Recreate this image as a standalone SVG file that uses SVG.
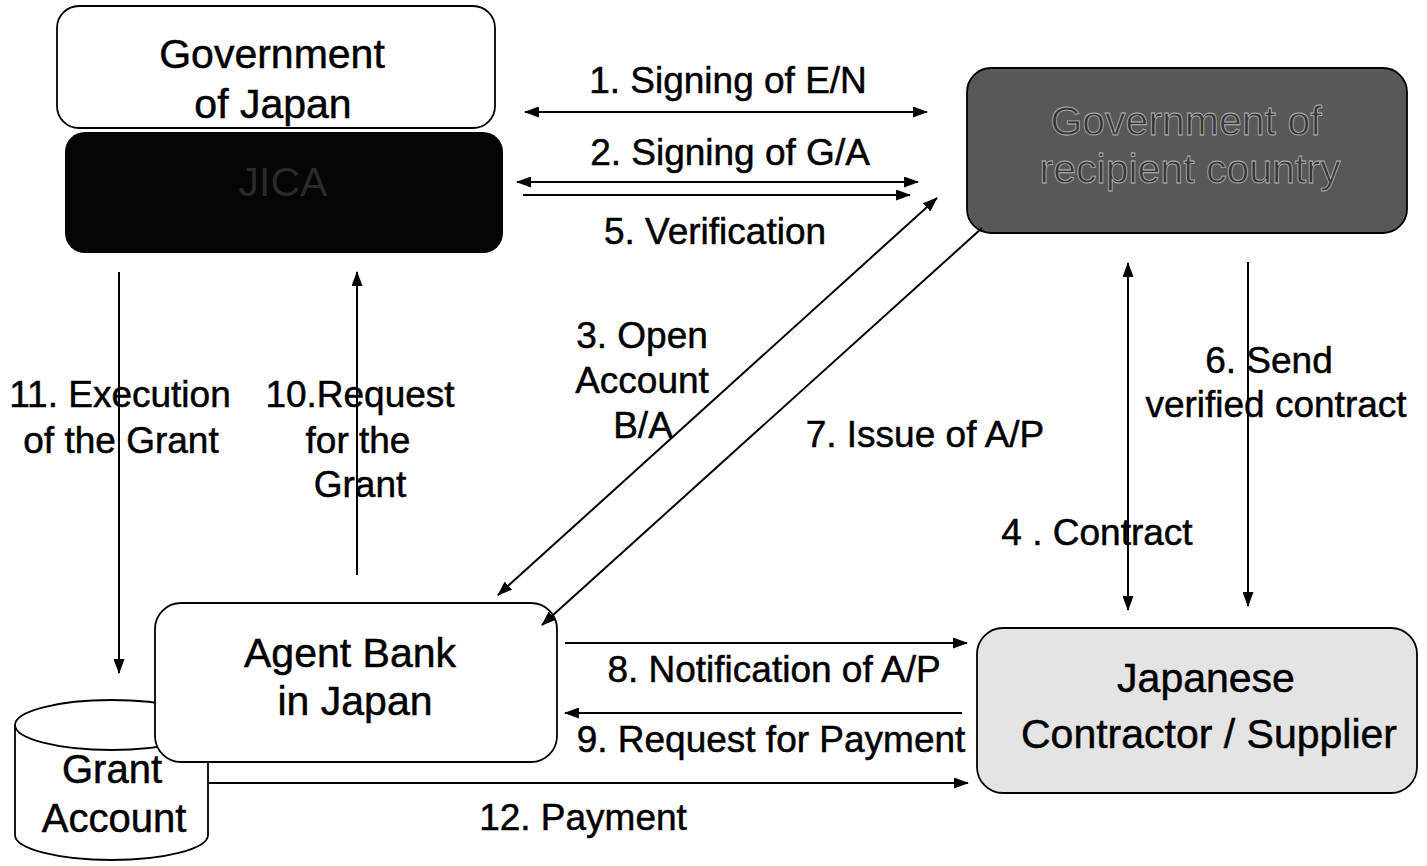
<svg xmlns="http://www.w3.org/2000/svg" width="1427" height="866" viewBox="0 0 1427 866">
  <style>
    .box { stroke: #000; stroke-width: 1.8; }
    .btxt { font-family: "Liberation Sans", Arial, sans-serif; font-size: 41px; text-anchor: middle; fill: #000; stroke: #000; stroke-width: 0.5; }
    .ltxt { font-family: "Liberation Sans", Arial, sans-serif; font-size: 37px; text-anchor: middle; fill: #000; stroke: #000; stroke-width: 0.5; }
    .conn { stroke: #000; stroke-width: 2; fill: none; }
    .dim { fill: #2a2a2a; stroke: none; }
    .rec { fill: #363636; stroke: #b8b8b8; stroke-width: 0.8; }
  </style>
  <defs>
    <marker id="ah" markerUnits="userSpaceOnUse" markerWidth="15" markerHeight="11" refX="14" refY="5.5" orient="auto-start-reverse">
      <path d="M0,0 L15,5.5 L0,11 z" fill="#000"/>
    </marker>
  </defs>
  <rect width="1427" height="866" fill="#fff"/>

  <g id="gov-japan">
    <rect class="box" x="57" y="6" width="438" height="122" rx="22" fill="#fff"/>
    <text class="btxt" x="272" y="68">Government</text>
    <text class="btxt" x="273" y="118">of Japan</text>
  </g>

  <g id="jica">
    <rect x="65" y="132" width="438" height="121" rx="20" fill="#050505"/>
    <text class="btxt dim" x="283" y="196">JICA</text>
  </g>

  <g id="gov-recipient">
    <rect class="box" x="967" y="68" width="440" height="165" rx="24" fill="#585858"/>
    <text class="btxt rec" x="1186" y="135">Government of</text>
    <text class="btxt rec" x="1190" y="183">recipient country</text>
  </g>

  <g id="grant-account">
    <path class="box" d="M15,725 L15,835 A96.5,25 0 0 0 208,835 L208,725" fill="#fff"/>
    <ellipse class="box" cx="111.5" cy="725" rx="96.5" ry="25" fill="#fff"/>
    <text class="btxt" x="112" y="783" style="font-size:40px">Grant</text>
    <text class="btxt" x="114" y="832" style="font-size:40px">Account</text>
  </g>

  <g id="agent-bank">
    <rect class="box" x="155" y="603" width="402" height="159" rx="26" fill="#fff"/>
    <text class="btxt" x="350" y="667">Agent Bank</text>
    <text class="btxt" x="355" y="715">in Japan</text>
  </g>

  <g id="contractor">
    <rect class="box" x="977" y="628" width="440" height="165" rx="26" fill="#e4e4e4"/>
    <text class="btxt" x="1206" y="692">Japanese</text>
    <text class="btxt" x="1209" y="748">Contractor / Supplier</text>
  </g>

  <g id="connectors">
    <g id="c1">
      <line class="conn" x1="525" y1="112" x2="927" y2="112" marker-start="url(#ah)" marker-end="url(#ah)"/>
      <text class="ltxt" x="728" y="93">1. Signing of E/N</text>
    </g>
    <g id="c2">
      <line class="conn" x1="517" y1="182" x2="918" y2="182" marker-start="url(#ah)" marker-end="url(#ah)"/>
      <text class="ltxt" x="730" y="165">2. Signing of G/A</text>
    </g>
    <g id="c5">
      <line class="conn" x1="523" y1="195" x2="910" y2="195" marker-end="url(#ah)"/>
      <text class="ltxt" x="715" y="244">5. Verification</text>
    </g>
    <g id="c3">
      <line class="conn" x1="937" y1="198" x2="498" y2="595" marker-start="url(#ah)" marker-end="url(#ah)"/>
      <text class="ltxt" x="642" y="348">3. Open</text>
      <text class="ltxt" x="642" y="393">Account</text>
      <text class="ltxt" x="643" y="438">B/A</text>
    </g>
    <g id="c7">
      <line class="conn" x1="982" y1="228" x2="542" y2="625" marker-end="url(#ah)"/>
      <text class="ltxt" x="925" y="447">7. Issue of A/P</text>
    </g>
    <g id="c4">
      <line class="conn" x1="1128" y1="263" x2="1128" y2="610" marker-start="url(#ah)" marker-end="url(#ah)"/>
      <text class="ltxt" x="1097" y="545">4 . Contract</text>
    </g>
    <g id="c6">
      <line class="conn" x1="1248" y1="262" x2="1248" y2="606" marker-end="url(#ah)"/>
      <text class="ltxt" x="1269" y="373">6. Send</text>
      <text class="ltxt" x="1276" y="417">verified contract</text>
    </g>
    <g id="c11">
      <line class="conn" x1="119" y1="272" x2="119" y2="673" marker-end="url(#ah)"/>
      <text class="ltxt" x="120" y="407">11. Execution</text>
      <text class="ltxt" x="121" y="453">of the Grant</text>
    </g>
    <g id="c10">
      <line class="conn" x1="357" y1="575" x2="357" y2="272" marker-end="url(#ah)"/>
      <text class="ltxt" x="360" y="407">10.Request</text>
      <text class="ltxt" x="358" y="453">for the</text>
      <text class="ltxt" x="360" y="497">Grant</text>
    </g>
    <g id="c8">
      <line class="conn" x1="565" y1="643" x2="967" y2="643" marker-end="url(#ah)"/>
      <text class="ltxt" x="774" y="682">8. Notification of A/P</text>
    </g>
    <g id="c9">
      <line class="conn" x1="962" y1="713" x2="565" y2="713" marker-end="url(#ah)"/>
      <text class="ltxt" x="771" y="752">9. Request for Payment</text>
    </g>
    <g id="c12">
      <line class="conn" x1="209" y1="783" x2="968" y2="783" marker-end="url(#ah)"/>
      <text class="ltxt" x="583" y="830">12. Payment</text>
    </g>
  </g>
</svg>
